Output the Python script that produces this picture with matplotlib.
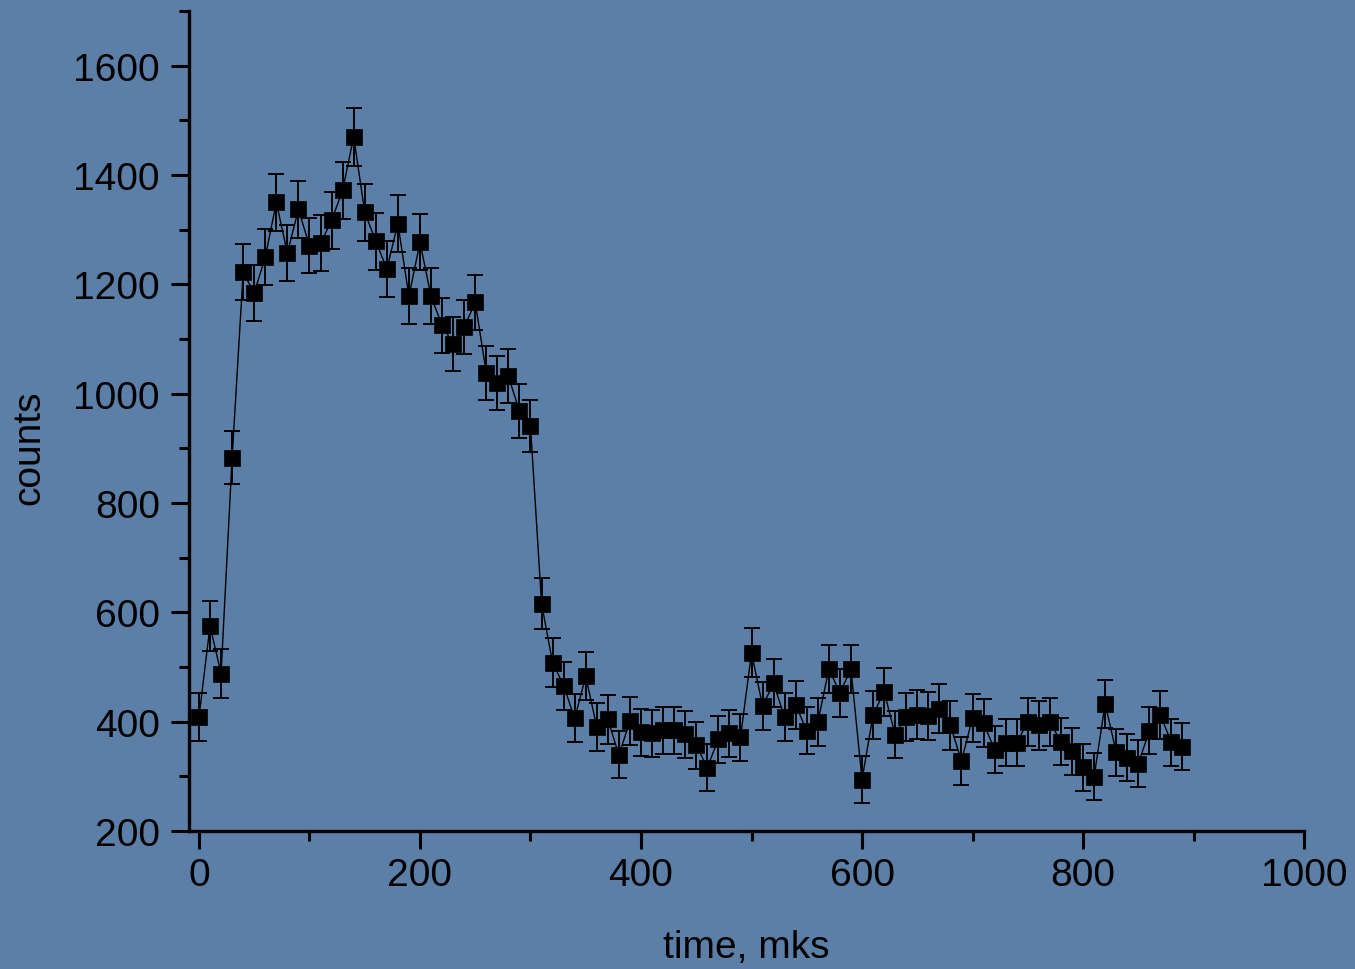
import matplotlib
matplotlib.use('Agg')
import matplotlib.pyplot as plt
from matplotlib.ticker import MultipleLocator

plt.rcParams['font.family'] = ['Liberation Sans', 'DejaVu Sans']

# time bins, mks
time = list(range(0, 900, 10))

counts = [408, 575, 488, 883, 1222, 1184, 1250, 1350, 1257, 1337,
          1271, 1275, 1317, 1372, 1470, 1332, 1279, 1228, 1311, 1178,
          1277, 1178, 1125, 1091, 1122, 1167, 1038, 1019, 1032, 968,
          941, 616, 508, 466, 406, 483, 390, 404, 339, 401,
          381, 379, 384, 384, 377, 357, 316, 368, 379, 371,
          526, 429, 470, 408, 431, 383, 399, 496, 453, 496,
          294, 412, 455, 376, 408, 413, 411, 424, 393, 328,
          407, 397, 349, 361, 361, 400, 393, 400, 363, 346,
          317, 299, 433, 344, 334, 323, 383, 412, 362, 354]

errors = [44, 45, 44, 48, 51, 51, 51, 52, 51, 52,
          51, 51, 52, 52, 53, 52, 52, 51, 52, 51,
          51, 51, 50, 50, 50, 51, 49, 49, 49, 49,
          48, 46, 45, 44, 44, 44, 44, 44, 43, 44,
          43, 43, 43, 43, 43, 43, 43, 43, 43, 43,
          45, 44, 44, 44, 44, 43, 44, 44, 44, 44,
          43, 44, 44, 43, 44, 44, 44, 44, 44, 43,
          44, 44, 43, 43, 43, 44, 44, 44, 43, 43,
          43, 43, 44, 43, 43, 43, 43, 44, 43, 43]

bg = '#5c7fa7'

fig = plt.figure(figsize=(13.55, 9.7), dpi=100, facecolor=bg)
ax = fig.add_axes([0.1395, 0.1423, 0.8229, 0.8453])
ax.set_facecolor(bg)

ax.plot(time, counts, color='black', lw=1.0, zorder=2)
ax.errorbar(time, counts, yerr=errors, fmt='none', ecolor='black',
            elinewidth=1.4, capsize=6, capthick=1.4, zorder=3)
ax.plot(time, counts, 's', color='black', ms=11.5, mew=0.5, zorder=4)

ax.set_xlim(-9, 1000)
ax.set_ylim(200, 1700)

ax.xaxis.set_major_locator(MultipleLocator(200))
ax.xaxis.set_minor_locator(MultipleLocator(100))
ax.yaxis.set_major_locator(MultipleLocator(200))
ax.yaxis.set_minor_locator(MultipleLocator(100))

for side in ('top', 'right'):
    ax.spines[side].set_visible(False)
for side in ('left', 'bottom'):
    ax.spines[side].set_linewidth(2.4)
    ax.spines[side].set_color('black')

ax.tick_params(which='major', length=13, width=2.2, labelsize=28,
               colors='black')
ax.tick_params(which='minor', length=7, width=2.2)
ax.tick_params(axis='y', which='major', pad=8)
ax.tick_params(axis='x', which='major', pad=6)

ax.set_xlabel('time, mks', fontsize=28, labelpad=26)
ax.set_ylabel('counts', fontsize=28)
ax.yaxis.set_label_coords(-0.127, 0.468)

fig.savefig('out.png', dpi=100, facecolor=bg)
